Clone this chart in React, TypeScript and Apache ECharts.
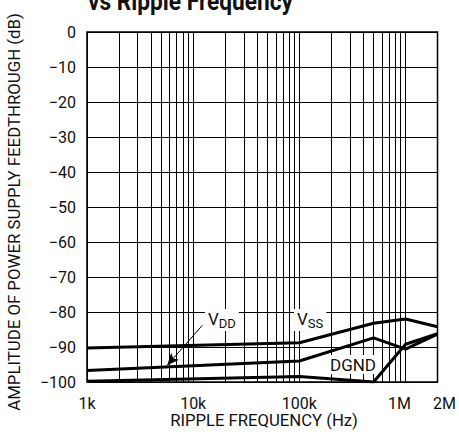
import React, { useEffect, useRef } from 'react';
import * as echarts from 'echarts';

const FONT = 'Roboto, "Liberation Sans", sans-serif';

// Ripple frequency (Hz) and feedthrough amplitude (dB) per supply pin
const vssFreq = [1000, 100000, 500000, 1000000, 2000000];
const vssDb = [-90.3, -88.8, -83.2, -82.0, -84.2];
const vddFreq = [1000, 100000, 500000, 1000000, 2000000];
const vddDb = [-96.7, -94.0, -87.4, -90.6, -86.3];
const dgndFreq = [1000, 100000, 500000, 1000000, 2000000];
const dgndDb = [-99.8, -98.4, -100.0, -89.2, -86.2];

const xTickValues = [1000, 10000, 100000, 1000000, 2000000];
const xTickLabels = ['1k', '10k', '100k', '{l|1M}', '{r|2M}'];

// log grid lines: 1..9 per decade from 1k up to 1M
const decades = [1000, 10000, 100000];
const gridFreqs: number[] = [];
decades.forEach((d) => {
  for (let k = 1; k <= 9; k++) gridFreqs.push(k * d);
});
gridFreqs.push(1000000);

// VDD arrow (from label to curve)
const arrowFrom = [12200, -83.8];
const arrowTo = [5700, -95.2];

const TITLE = 'vs Ripple Frequency';
const X_NAME = 'RIPPLE FREQUENCY (Hz)';
const Y_NAME = 'AMPLITUDE OF POWER SUPPLY FEEDTHROUGH (dB)';

function xLabel(v: number) {
  let best = 0;
  let bd = Infinity;
  xTickValues.forEach((t, i) => {
    const d = Math.abs(Math.log10(v) - Math.log10(t));
    if (d < bd) {
      bd = d;
      best = i;
    }
  });
  return bd < 0.01 ? xTickLabels[best] : '';
}

function measure(text: string, font: string) {
  const c = document.createElement('canvas').getContext('2d');
  if (!c) return 0;
  c.font = font;
  return c.measureText(text).width;
}

const zip = (xs: number[], ys: number[]) => xs.map((x, i) => [x, ys[i]]);

export default function App() {
  const ref = useRef<HTMLDivElement>(null);
  useEffect(() => {
    const chart = echarts.init(ref.current!, null, { renderer: 'svg' });
    const curveStyle = { color: '#000', width: 3 };
    const fit = (text: string, font: string, target: number) => {
      const w = measure(text, font);
      return w > 0 ? target / w : 1;
    };
    const titleScale = fit(TITLE, 'bold 25px Roboto', 205);
    const yNameScale = fit(Y_NAME, '16px Roboto', 398);
    const xNameScale = fit(X_NAME, '17px Roboto', 188);
    const subRich = {
      v: { fontSize: 17, lineHeight: 20, verticalAlign: 'top', fontFamily: FONT, fill: '#111' },
      s: { fontSize: 13, lineHeight: 13, verticalAlign: 'top', padding: [7, 0, 0, 0], fontFamily: FONT, fill: '#111' },
    };
    const option: any = {
      animation: false,
      backgroundColor: '#fff',
      textStyle: { fontFamily: FONT },
      grid: {
        left: 87,
        right: 20,
        top: 32,
        bottom: 53,
        show: true,
        borderColor: '#000',
        borderWidth: 1.5,
      },
      xAxis: {
        type: 'log',
        logBase: 10,
        min: 1000,
        max: 2000000,
        axisLine: { show: false },
        axisTick: { show: false },
        splitLine: { show: false },
        axisLabel: {
          color: '#111',
          fontSize: 16,
          fontFamily: FONT,
          margin: 13,
          formatter: (v: number) => xLabel(v),
          showMaxLabel: true,
          showMinLabel: true,
          rich: {
            l: { fontSize: 16, fontFamily: FONT, color: '#111', padding: [0, 12, 0, 0] },
            r: { fontSize: 16, fontFamily: FONT, color: '#111', padding: [0, 0, 0, 14] },
          },
        },
      },
      yAxis: {
        type: 'value',
        min: -100,
        max: 0,
        interval: 10,
        axisLine: { show: false },
        axisTick: { show: false },
        splitLine: { show: true, lineStyle: { color: '#000', width: 1 } },
        axisLabel: {
          color: '#111',
          fontSize: 16,
          fontFamily: FONT,
          margin: 11,
          formatter: (v: number) => (v === 0 ? '0' : '\u2212' + Math.abs(v)),
        },
      },
      graphic: [
        {
          type: 'text',
          x: 88,
          y: 14,
          scaleX: titleScale,
          style: {
            text: TITLE,
            fontFamily: FONT,
            fontWeight: 'bold',
            fontSize: 25,
            fill: '#111',
            verticalAlign: 'bottom',
          },
          z: 100,
        },
        {
          type: 'text',
          x: 15,
          y: 212,
          rotation: Math.PI / 2,
          scaleX: yNameScale,
          style: {
            text: Y_NAME,
            fontFamily: FONT,
            fontSize: 16,
            fill: '#111',
            align: 'center',
            verticalAlign: 'middle',
          },
        },
        {
          type: 'text',
          x: 264,
          y: 420,
          scaleX: xNameScale,
          style: {
            text: X_NAME,
            fontFamily: FONT,
            fontSize: 17,
            fill: '#111',
            align: 'center',
            verticalAlign: 'middle',
          },
        },
        {
          type: 'text',
          x: 205,
          y: 309,
          z: 100,
          style: {
            text: '{v|V}{s|DD}',
            fontFamily: FONT,
            backgroundColor: '#fff',
            padding: [1, 3, 1, 3],
            fill: '#111',
            rich: subRich,
          },
        },
        {
          type: 'text',
          x: 294,
          y: 309,
          z: 100,
          style: {
            text: '{v|V}{s|SS}',
            fontFamily: FONT,
            backgroundColor: '#fff',
            padding: [1, 3, 1, 3],
            fill: '#111',
            rich: subRich,
          },
        },
        {
          type: 'text',
          x: 328,
          y: 355,
          z: 100,
          style: {
            text: 'DGND',
            fontFamily: FONT,
            fontSize: 17,
            fill: '#111',
            backgroundColor: '#fff',
            padding: [1, 2, 1, 2],
          },
        },
      ],
      series: [
        {
          type: 'line',
          name: 'grid',
          data: [[1000, -100]],
          symbol: 'none',
          lineStyle: { width: 0 },
          silent: true,
          z: 1,
          markLine: {
            silent: true,
            symbol: 'none',
            label: { show: false },
            lineStyle: { color: '#000', width: 1, type: 'solid' },
            data: gridFreqs.map((f) => ({ xAxis: f })),
          },
        },
        {
          type: 'line',
          name: 'VSS',
          data: zip(vssFreq, vssDb),
          symbol: 'none',
          lineStyle: curveStyle,
          z: 3,
        },
        {
          type: 'line',
          name: 'VDD',
          data: zip(vddFreq, vddDb),
          symbol: 'none',
          lineStyle: curveStyle,
          z: 3,
          markLine: {
            silent: true,
            label: { show: false },
            lineStyle: { color: '#000', width: 1, type: 'solid' },
            symbolSize: [8, 12],
            data: [
              [
                { coord: arrowFrom, symbol: 'none' },
                { coord: arrowTo, symbol: 'arrow' },
              ],
            ],
          },
        },
        {
          type: 'line',
          name: 'DGND',
          data: zip(dgndFreq, dgndDb),
          symbol: 'none',
          lineStyle: curveStyle,
          z: 3,
        },
      ],
    };
    chart.setOption(option);
    return () => chart.dispose();
  }, []);
  return (
    <div
      ref={ref}
      style={{ position: 'absolute', left: 0, top: 0, width: 459, height: 435 }}
    />
  );
}
